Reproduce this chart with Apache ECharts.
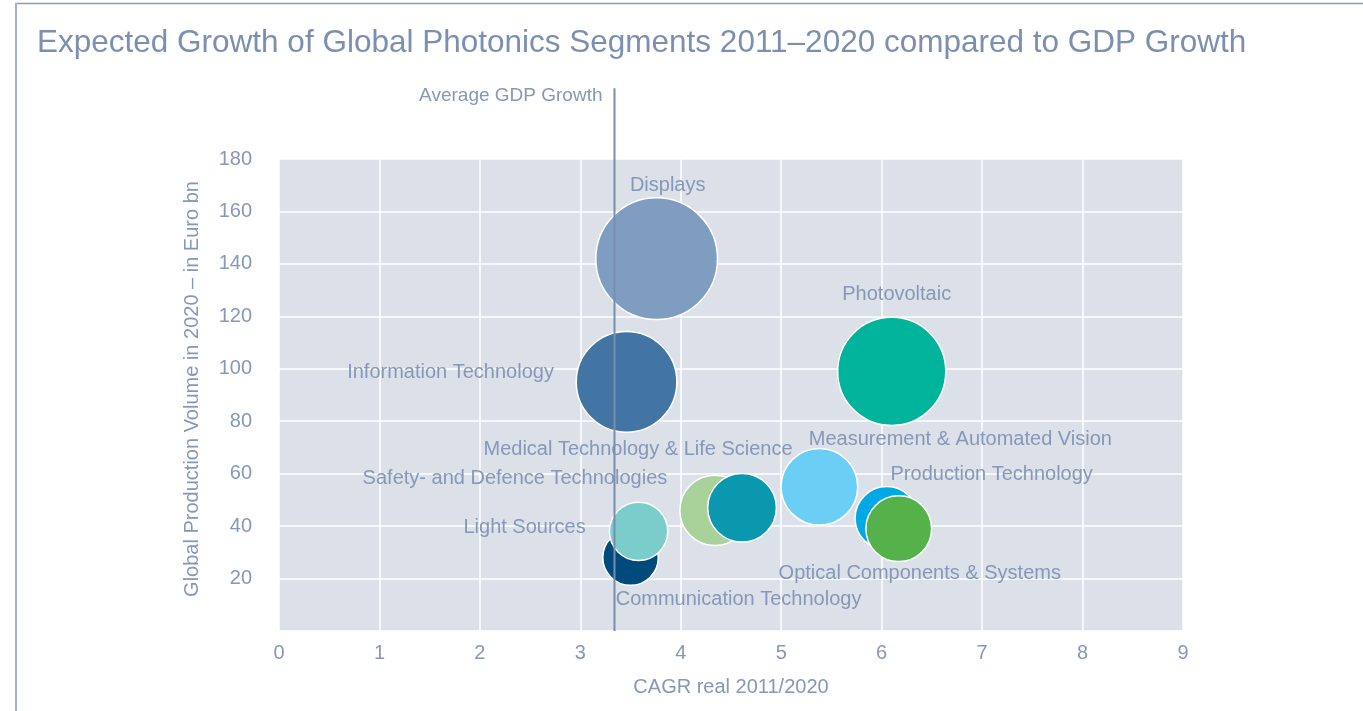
<!DOCTYPE html>
<html>
<head>
<meta charset="utf-8">
<script src="https://cdn.jsdelivr.net/npm/echarts@6/dist/echarts.min.js"></script>
<style>
html,body{margin:0;padding:0;background:#fff;}
#chart{width:1363px;height:711px;}
</style>
</head>
<body>
<div id="chart"></div>
<script>
// ---- data ----
const segments = [
  'Displays',
  'Information Technology',
  'Photovoltaic',
  'Measurement & Automated Vision',
  'Production Technology',
  'Optical Components & Systems',
  'Safety- and Defence Technologies',
  'Medical Technology & Life Science',
  'Communication Technology',
  'Light Sources'
];
const cagr =   [3.76, 3.46, 6.10, 5.38, 6.05, 6.17, 4.34, 4.61, 3.50, 3.58];
const volume = [142, 95, 99, 55, 43, 39, 46, 47, 28, 38];
const bubbleWeight = [37, 25.3, 29.2, 14.7, 10, 10.8, 12.3, 11.8, 7.7, 8.5];
const gdpGrowth = 3.34;
const gdpLineTop = 207;
const xTicks = [0, 9, 1];
const yTicks = [0, 180, 20];

// ---- styles ----
const colors = ['#7f9dc1', '#4275a3', '#00b39b', '#6bcff5', '#00a9e6', '#55b14a', '#a9d19a', '#0a98ae', '#004a7c', '#7acdcb'];
const labelOffsets = [[11, -73], [-176, -9], [5, -77], [141, -47], [105, -44], [21, 45], [-200, -32], [-104, -58], [108, 42], [-114, -4]];
const textColor = '#8797b8';
const fontMain = '"Liberation Sans", Arial, sans-serif';
const fontNarrow = '"Liberation Sans Narrow", "Liberation Sans", sans-serif';

const scatterData = segments.map((name, i) => ({
  name: name,
  value: [cagr[i], volume[i], bubbleWeight[i]],
  itemStyle: { color: colors[i] },
  label: { offset: labelOffsets[i] }
}));

const chart = echarts.init(document.getElementById('chart'), null, { renderer: 'canvas' });
chart.setOption({
  animation: false,
  backgroundColor: '#ffffff',
  title: {
    text: 'Expected Growth of Global Photonics Segments 2011\u20132020 compared to GDP Growth',
    left: 37, top: 27, padding: 0,
    textStyle: { color: '#7d8fb0', fontSize: 31.5, fontWeight: 'normal', fontFamily: fontMain }
  },
  graphic: [
    { type: 'line', silent: true, shape: { x1: 15, y1: 3.5, x2: 1363, y2: 3.5 }, style: { stroke: '#8a9bbb', lineWidth: 1.5 } },
    { type: 'line', silent: true, shape: { x1: 16, y1: 3, x2: 16, y2: 711 }, style: { stroke: '#a3b1cc', lineWidth: 2 } }
  ],
  grid: { left: 279, right: 180, top: 159, bottom: 80, show: true, backgroundColor: '#dce0e9', borderWidth: 0 },
  xAxis: {
    type: 'value', min: xTicks[0], max: xTicks[1], interval: xTicks[2],
    name: 'CAGR real 2011/2020', nameLocation: 'middle', nameGap: 46,
    nameTextStyle: { color: textColor, fontSize: 20, fontFamily: fontNarrow },
    axisLine: { show: false }, axisTick: { show: false },
    axisLabel: { color: textColor, fontSize: 20, fontFamily: fontNarrow, margin: 12 },
    splitLine: { show: true, lineStyle: { color: '#ffffff', width: 1.5 } }
  },
  yAxis: {
    type: 'value', min: yTicks[0], max: yTicks[1], interval: yTicks[2],
    name: 'Global Production Volume in 2020 \u2013 in Euro bn', nameLocation: 'middle', nameGap: 77, nameRotate: 90,
    nameTextStyle: { color: textColor, fontSize: 20, fontFamily: fontMain, padding: [0, 0, 0, 12] },
    axisLine: { show: false }, axisTick: { show: false },
    axisLabel: { color: textColor, fontSize: 20, fontFamily: fontMain, margin: 27, showMinLabel: false },
    splitLine: { show: true, lineStyle: { color: '#ffffff', width: 1.5 } }
  },
  series: [
    {
      type: 'scatter',
      data: scatterData,
      symbolSize: v => 20 * Math.sqrt(v[2]),
      itemStyle: { borderColor: '#ffffff', borderWidth: 1.5, opacity: 1 },
      label: {
        show: true, position: 'inside', formatter: p => p.name,
        color: textColor, fontSize: 20, fontFamily: fontMain
      },
      emphasis: { disabled: true },
      z: 2
    },
    {
      type: 'line',
      data: [
        { value: [gdpGrowth, 0] },
        { value: [gdpGrowth, gdpLineTop], label: { show: true } }
      ],
      clip: false,
      symbol: 'circle', symbolSize: 2, showSymbol: true,
      itemStyle: { color: 'rgba(0,0,0,0)', borderWidth: 0 },
      lineStyle: { color: '#7a8db0', width: 2 },
      label: {
        show: false, position: 'left', distance: 11, offset: [0, 8],
        formatter: 'Average GDP Growth',
        color: textColor, fontSize: 19, fontFamily: fontNarrow
      },
      emphasis: { disabled: true },
      z: 5
    }
  ]
});
</script>
</body>
</html>
